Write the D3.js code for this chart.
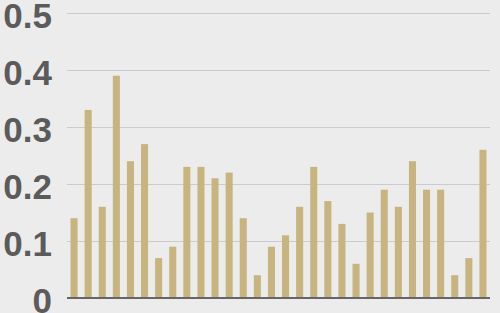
<!DOCTYPE html>
<html>
<head>
<meta charset="utf-8">
<script src="https://cdn.jsdelivr.net/npm/d3@7"></script>
<style>
  body { margin: 0; background: #ececec; }
  svg { display: block; }
</style>
</head>
<body>
<div id="chart"></div>
<script>
const values = [0.14, 0.33, 0.16, 0.39, 0.24, 0.27, 0.07, 0.09, 0.23, 0.23,
  0.21, 0.22, 0.14, 0.04, 0.09, 0.11, 0.16, 0.23, 0.17, 0.13,
  0.06, 0.15, 0.19, 0.16, 0.24, 0.19, 0.19, 0.04, 0.07, 0.26];
const categories = values.map((d, i) => i + 1);
const yTicks = [0, 0.1, 0.2, 0.3, 0.4, 0.5];

const width = 500;
const height = 313;
const margin = { top: 13, right: 10, bottom: 15, left: 67 };

const svg = d3.select('#chart')
  .append('svg')
  .attr('width', width)
  .attr('height', height);

svg.append('rect').attr('width', width).attr('height', height).attr('fill', '#ececec');

const x = d3.scaleBand()
  .domain(categories)
  .range([margin.left, width - margin.right])
  .paddingInner(0.5)
  .paddingOuter(0.25);

const y = d3.scaleLinear()
  .domain([0, 0.5])
  .range([height - margin.bottom, margin.top]);

// gridlines
svg.append('g')
  .selectAll('line')
  .data(yTicks.filter(d => d > 0))
  .join('line')
  .attr('x1', margin.left)
  .attr('x2', width - margin.right)
  .attr('y1', d => Math.round(y(d)) + 0.5)
  .attr('y2', d => Math.round(y(d)) + 0.5)
  .attr('stroke', '#cbcbcb')
  .attr('stroke-width', 1);

// y labels
const fmt = d => d === 0 ? '0' : d3.format('.1f')(d);
svg.append('g')
  .selectAll('text')
  .data(yTicks)
  .join('text')
  .attr('x', 52)
  .attr('y', d => y(d))
  .attr('dy', '0.43em')
  .attr('text-anchor', 'end')
  .attr('font-family', 'Liberation Sans, Arial, sans-serif')
  .attr('font-weight', 'bold')
  .attr('font-size', 35)
  .attr('fill', '#5b5b5b')
  .text(fmt);

// bars
svg.append('g')
  .selectAll('rect')
  .data(values)
  .join('rect')
  .attr('x', (d, i) => x(categories[i]))
  .attr('width', x.bandwidth())
  .attr('y', d => y(d))
  .attr('height', d => y(0) - y(d))
  .attr('fill', '#c7b47f');

// baseline
svg.append('line')
  .attr('x1', margin.left)
  .attr('x2', width - margin.right)
  .attr('y1', y(0))
  .attr('y2', y(0))
  .attr('stroke', '#666')
  .attr('stroke-width', 2);
</script>
</body>
</html>
